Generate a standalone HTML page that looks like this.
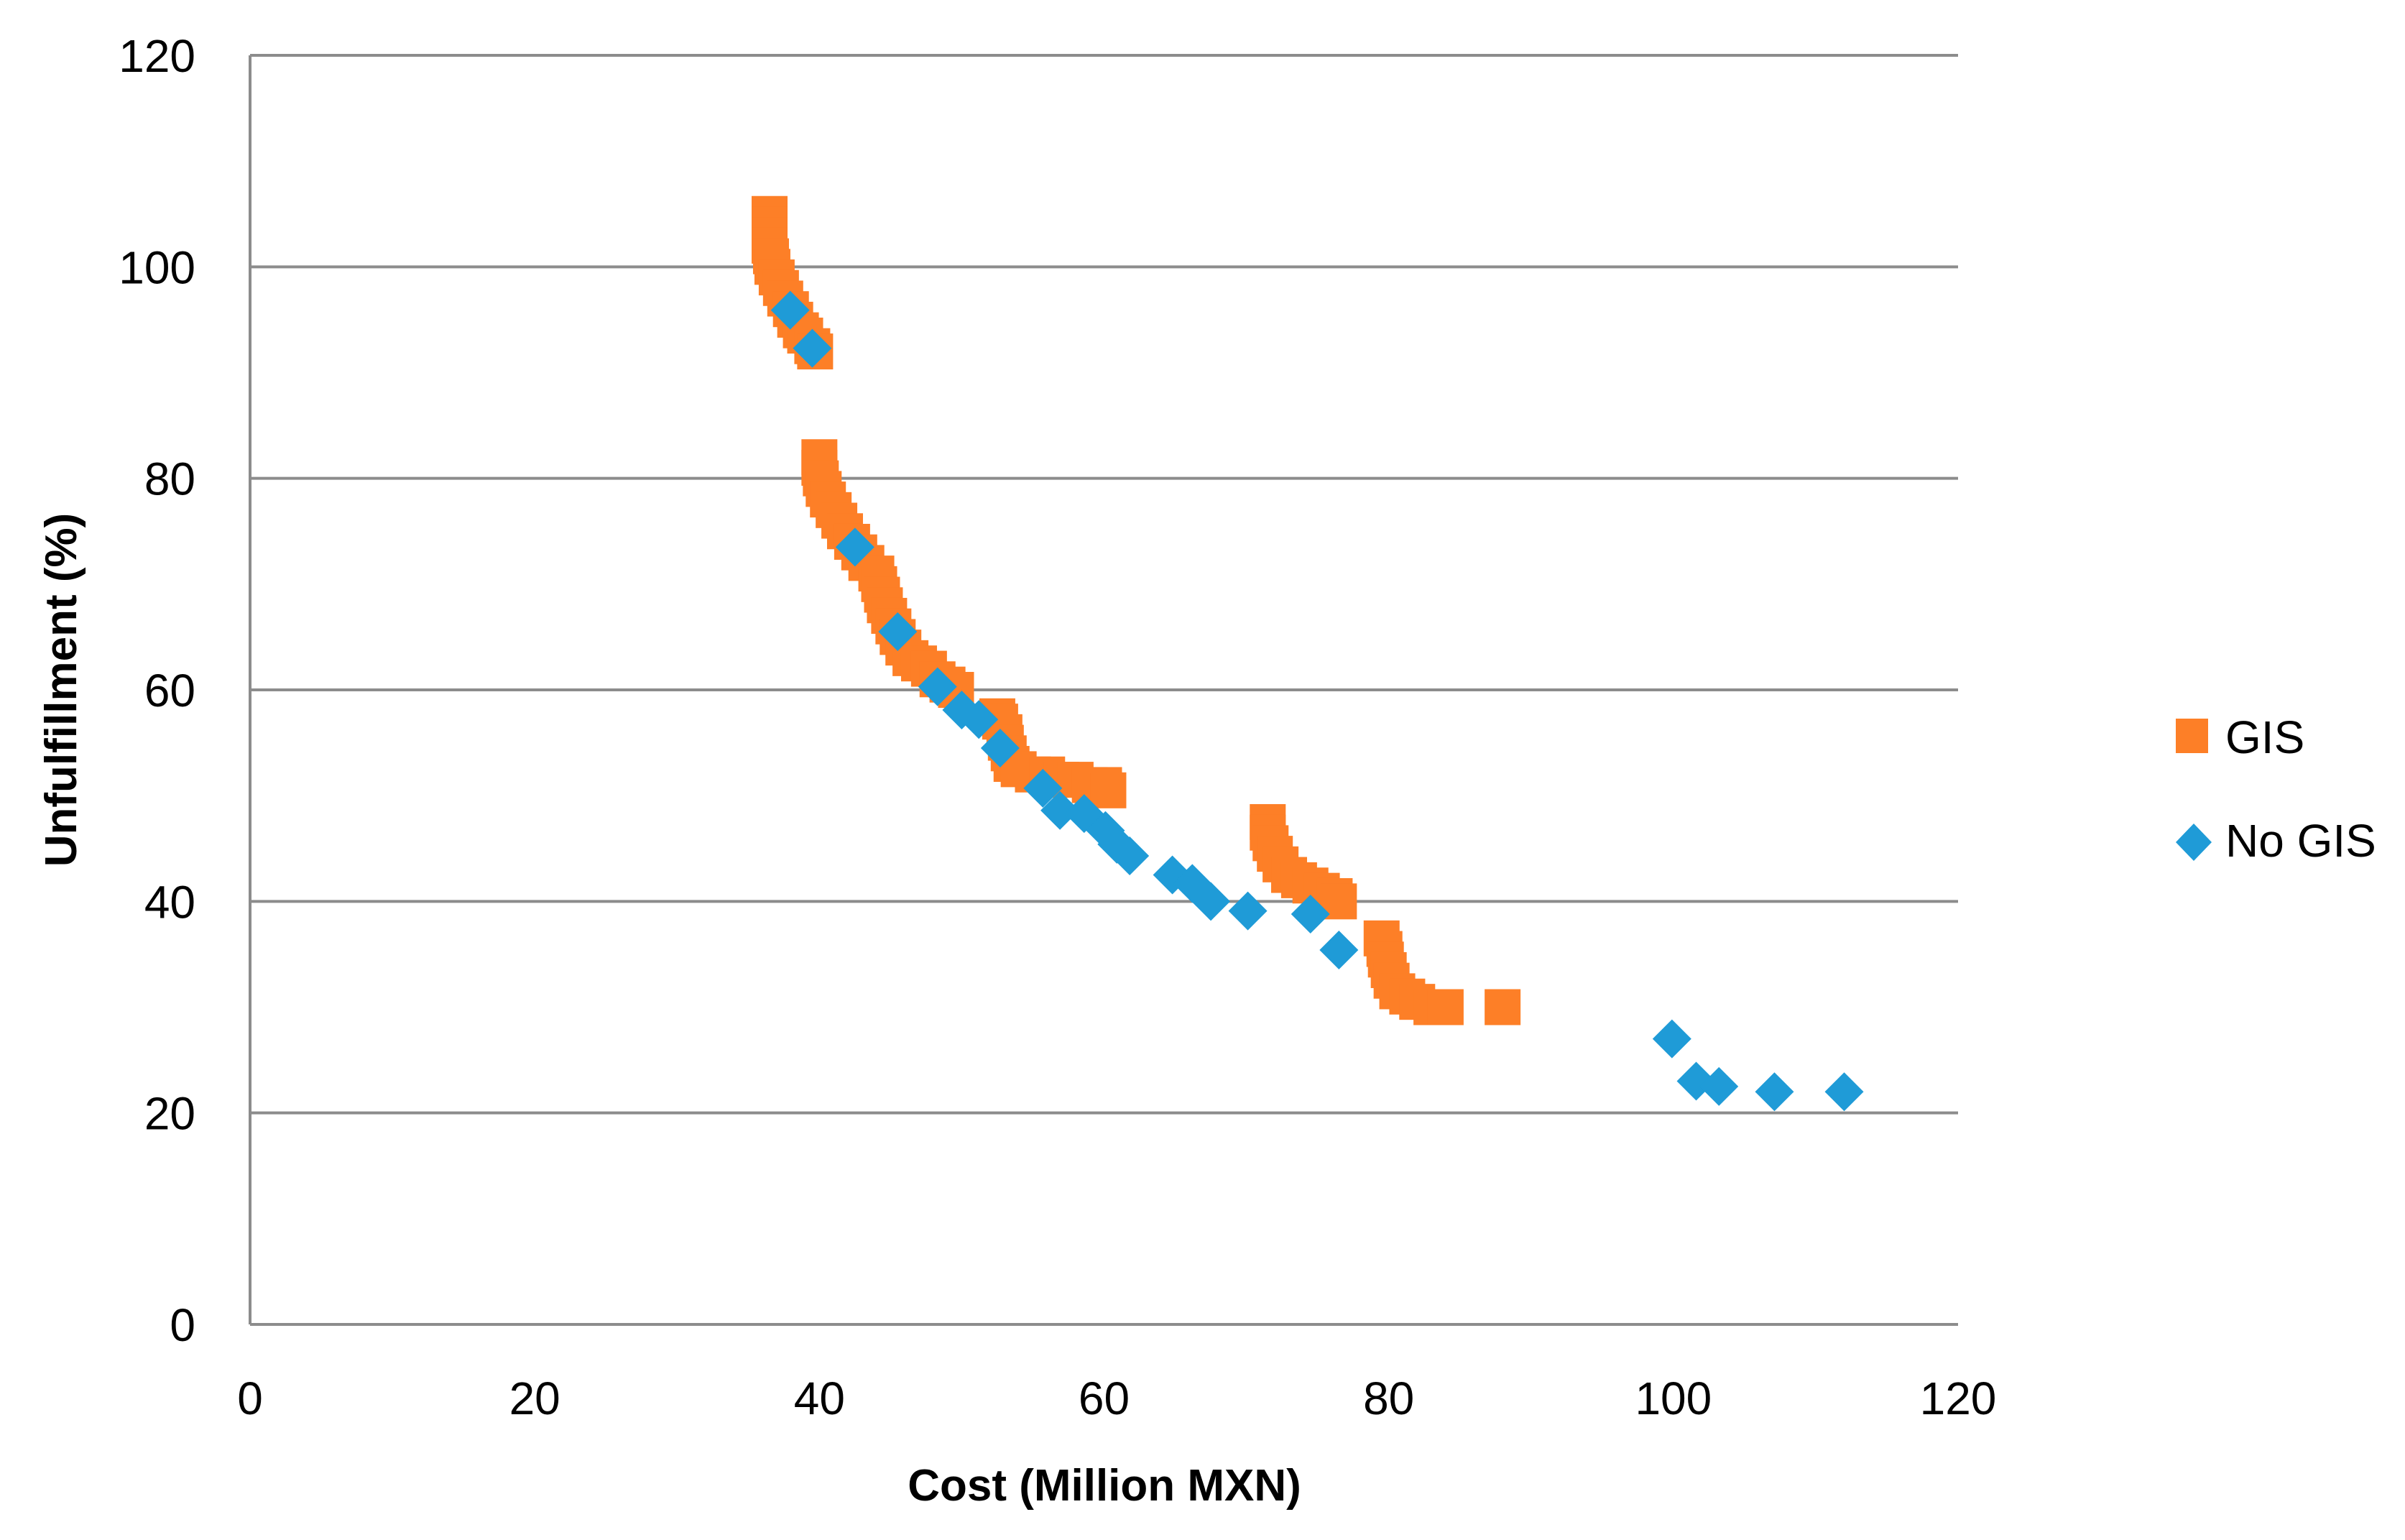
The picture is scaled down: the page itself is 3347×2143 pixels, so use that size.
<!DOCTYPE html>
<html><head><meta charset="utf-8"><style>
html,body{margin:0;padding:0;background:#fff;}
svg{display:block;font-family:"Liberation Sans",sans-serif;}
</style></head><body>
<svg id="chart" width="3347" height="2143" viewBox="0 0 3347 2143" xmlns="http://www.w3.org/2000/svg">
<g id="grid"></g>
<g id="axes"></g>
<g id="gis"></g>
<g id="nogis"></g>
<text x="1537" y="2088" font-size="62" font-weight="bold" text-anchor="middle">Cost (Million MXN)</text>
<text x="0" y="0" font-size="62" font-weight="bold" text-anchor="middle" transform="translate(106,960) rotate(-90)">Unfulfillment (%)</text>
<g>
<rect x="3028" y="1000" width="45" height="48" fill="#fd7f27"/>
<text x="3097" y="1048" font-size="64">GIS</text>
<polygon points="3053,1146 3078,1172 3053,1198 3028,1172" fill="#1f9bd7"/>
<text x="3097" y="1192" font-size="64">No GIS</text>
</g>
</svg>
<script>
const xTicks=[0,20,40,60,80,100,120];
const yTicks=[0,20,40,60,80,100,120];
const gisX=[36.5,36.5,36.5,36.5,36.6,36.7,37,37.3,37.6,38,38.3,38.7,39,39.5,39.7,
40,40,40.1,40.3,40.6,41,41.4,41.8,42.3,42.8,43.3,44,44.2,44.4,44.6,44.9,45.2,45.5,45.9,46.4,47,47.7,48.3,49,49.6,52.5,52.7,53,53.1,53.3,53.5,54,55,56,57,58,59,60,60.3,
71.5,71.5,71.7,72,72.4,73,73.7,74.5,75.3,76.2,76.5,
79.5,79.7,79.8,80,80.2,80.6,81.3,82,83,84,88];
const gisY=[105,104,103,102,101,100,99,98,97,96,95,94,93.5,92.5,92,
82,81,80,79,78,77,76,75,74,73,72,71,70,69,68,67,66,65,64,63,62.5,62,61,60.5,60,57.5,57,56,55,54,53,52.5,52,52,51.5,51.5,51,51,50.5,
47.5,46.5,45.5,44.5,43.5,42.5,42,41.5,41,40.5,40,
36.5,35.5,34.5,33.5,32.5,31.5,31,30.5,30,30,30];
const noGisX=[37.95,39.5,42.5,45.5,48.3,50.0,51.2,52.7,55.7,56.9,58.6,60.1,60.9,61.8,64.8,66.2,67.5,70.1,74.5,76.5,99.9,101.6,103.2,107.1,112.0];
const noGisY=[95.9,92.3,73.5,65.5,60.3,58.1,57.2,54.5,50.7,48.6,48.3,46.7,45.4,44.3,42.5,41.7,40.0,39.1,38.8,35.4,27.0,23.0,22.5,22.0,22.0];

const X0=348,X1=2725,Y0=1843,Y1=77;
function sx(v){return X0+(v-0)/(120-0)*(X1-X0);}
function sy(v){return Y0-(v-0)/(120-0)*(Y0-Y1);}
const NS="http://www.w3.org/2000/svg";
function mk(tag,parent){const e=document.createElementNS(NS,tag);parent.appendChild(e);return e;}
const grid=document.getElementById('grid'),axes=document.getElementById('axes');
yTicks.forEach(t=>{
  const l=mk('line',grid);
  
  
  l.setAttribute('x1',X0);l.setAttribute('x2',X1);l.setAttribute('y1',sy(t));l.setAttribute('y2',sy(t));
  l.setAttribute('stroke','#8c8c8c');l.setAttribute('stroke-width','4');
  const tx=mk('text',axes);
  
  
  tx.setAttribute('x',272);tx.setAttribute('y',sy(t)+23);tx.setAttribute('font-size','64');tx.setAttribute('text-anchor','end');
  tx.textContent=t;
});
const ya=mk('line',axes);


ya.setAttribute('x1',X0);ya.setAttribute('x2',X0);ya.setAttribute('y1',Y1);ya.setAttribute('y2',Y0);
ya.setAttribute('stroke','#8c8c8c');ya.setAttribute('stroke-width','4');
xTicks.forEach(t=>{
  const tx=mk('text',axes);
  
  
  tx.setAttribute('x',sx(t));tx.setAttribute('y',1968);tx.setAttribute('font-size','64');tx.setAttribute('text-anchor','middle');
  tx.textContent=t;
});
const gis=document.getElementById('gis');
gisX.forEach((v,i)=>{
  const r=mk('rect',gis);
  
  
  const s=50;
  r.setAttribute('x',sx(v)-s/2);r.setAttribute('y',sy(gisY[i])-s/2);r.setAttribute('width',s);r.setAttribute('height',s);
  r.setAttribute('fill','#fd7f27');
});
const ng=document.getElementById('nogis');
noGisX.forEach((v,i)=>{
  const p=mk('polygon',ng);
  
  
  const cx=sx(v),cy=sy(noGisY[i]),h=27;
  p.setAttribute('points',`${cx},${cy-h} ${cx+h},${cy} ${cx},${cy+h} ${cx-h},${cy}`);
  p.setAttribute('fill','#1f9bd7');
});
</script>
</body></html>
